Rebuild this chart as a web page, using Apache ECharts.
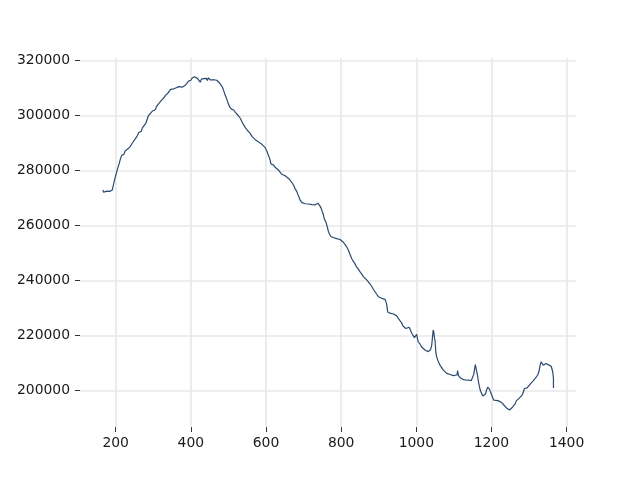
<!DOCTYPE html>
<html>
<head>
<meta charset="utf-8">
<script src="https://cdn.jsdelivr.net/npm/echarts@6/dist/echarts.min.js"></script>
<style>html,body{margin:0;padding:0;background:#fff}#c{width:640px;height:480px}</style>
</head>
<body>
<div id="c"></div>
<script>
const xValues = [166,168,170,173,177,180,184,187,191,195,198,204,209,213,216,219,222,225,228,231,235,238,241,244,248,253,257,262,266,268,271,275,280,283,287,290,292,295,297,301,306,308,311,315,318,321,324,327,330,333,336,339,342,346,349,351,355,359,363,366,369,373,377,382,386,390,394,397,400,404,407,410,413,415,418,421,423,425,428,430,434,439,441,444,446,448,452,457,461,465,469,474,477,480,484,487,491,495,499,503,506,508,511,514,518,523,527,532,536,541,545,548,550,554,558,560,563,567,572,576,580,584,589,592,596,600,603,607,611,613,615,618,620,624,627,629,633,636,638,642,645,647,651,653,656,660,665,669,673,677,682,686,691,695,700,704,709,713,718,722,727,731,735,738,740,743,747,750,753,755,757,760,763,766,768,772,775,779,783,788,793,797,802,806,810,815,819,823,828,832,837,841,846,850,855,859,864,868,873,877,882,886,890,895,899,903,908,913,917,921,924,926,930,935,939,943,947,952,956,961,964,968,972,977,981,985,988,992,995,998,1001,1003,1005,1010,1014,1018,1023,1027,1032,1036,1038,1041,1043,1045,1047,1048,1050,1052,1054,1058,1063,1067,1072,1076,1081,1085,1090,1094,1099,1103,1108,1110,1112,1115,1118,1121,1126,1130,1134,1137,1140,1143,1146,1149,1153,1157,1159,1161,1163,1166,1168,1171,1173,1177,1180,1184,1186,1188,1190,1192,1195,1197,1200,1203,1206,1209,1212,1215,1219,1224,1228,1233,1237,1241,1245,1248,1252,1256,1259,1263,1266,1270,1274,1279,1282,1285,1288,1291,1295,1300,1303,1307,1311,1316,1319,1323,1326,1328,1330,1332,1335,1337,1338,1341,1345,1348,1352,1355,1359,1361,1363,1365,1365];
const yValues = [273000,272200,272800,272300,272600,271900,272500,271900,273000,275500,277200,280200,282500,284500,285600,286300,286000,287200,286900,287800,288200,288700,289300,290000,290400,291800,292600,294000,294600,294300,295600,295900,297200,297700,300000,299700,300800,301000,301600,302000,302300,303200,303000,304500,304300,305500,305700,306300,306800,307500,307800,308200,308700,309600,309400,310100,309800,310400,310300,309800,310600,310100,310400,310500,311200,311800,312600,313300,312900,313800,313300,314200,314400,314800,313500,313200,313700,312200,313300,313000,313500,313100,313600,312800,313800,313400,313000,313500,313100,313000,312900,312400,311800,311200,310400,309300,307600,306300,304600,303300,302600,302400,302000,302100,301300,300900,299900,299000,297800,296600,295700,295400,294800,294200,293600,292900,292400,292000,291200,290800,290500,290000,289600,288900,288700,287800,286900,285400,283900,282500,282600,281900,282100,281300,281500,281100,280300,279800,279600,278700,279000,278400,278200,277700,277800,277200,276600,275700,274800,273600,272400,271000,269300,268500,268100,268000,267500,267900,267300,267700,267200,267600,267500,268200,268100,267300,266300,265000,263900,262500,262700,261200,259600,258000,257200,256200,256200,255700,255800,255300,255400,255000,254800,254000,253200,252300,251200,249800,248100,247100,246100,245000,244100,243300,242400,241500,241200,240300,239600,238800,237800,236800,236000,235000,234200,233700,233600,233300,233200,231500,228600,228500,228200,228400,227900,228100,227300,226900,225600,224700,223600,223500,222600,222100,223100,221800,220900,220400,219300,220000,220500,219000,217800,216900,216000,215500,214800,214300,214200,214600,215000,216500,219500,222100,221000,219500,218000,214000,212400,210800,209300,208500,207500,206800,206300,205700,205900,205400,205500,205200,205700,207300,205600,205100,204600,204700,204000,204300,203800,203300,203900,203900,203600,204000,206000,209500,208200,206800,205500,202800,201500,199800,199300,198100,198600,198800,199800,199600,201300,200600,200500,199700,199100,197600,196600,197000,196500,196800,196300,196000,195600,194800,194200,193600,193300,193000,193600,194000,194600,195200,196300,196900,197300,197200,198500,199600,200800,201200,201000,201600,202400,202900,203600,204100,204900,205700,206800,208100,209600,210500,210800,209800,209300,209800,209900,209400,209400,208900,208900,208200,206900,204500,201000];
const xTicks = [200,400,600,800,1000,1200,1400];
const yTicks = [200000,220000,240000,260000,280000,300000,320000];

const lineColor = '#2b4a6f';
const gridColor = '#e8e8e8';
const textColor = '#1a1a1a';
const font = 'DejaVu Sans';

const chart = echarts.init(document.getElementById('c'), null, {renderer: 'canvas'});
const data = xValues.map((x, i) => [x, yValues[i]]);

const gridLines = xTicks.map(v => ({xAxis: v})).concat(yTicks.map(v => ({yAxis: v})));

chart.setOption({
  animation: false,
  backgroundColor: '#ffffff',
  grid: {left: 80, right: 64, top: 58, bottom: 53, containLabel: false},
  xAxis: {
    type: 'value', min: 105, max: 1425,
    axisLine: {show: false},
    axisTick: {show: true, customValues: xTicks, length: 5, lineStyle: {color: '#333', width: 1}},
    axisLabel: {customValues: xTicks, margin: 9, color: textColor, fontFamily: font, fontSize: 13.9, formatter: v => String(v)},
    splitLine: {show: false}
  },
  yAxis: {
    type: 'value', min: 186800, max: 321000,
    axisLine: {show: false},
    axisTick: {show: true, customValues: yTicks, length: 5, lineStyle: {color: '#333', width: 1}},
    axisLabel: {customValues: yTicks, margin: 10, color: textColor, fontFamily: font, fontSize: 13.9, formatter: v => String(v)},
    splitLine: {show: false}
  },
  series: [
    {
      type: 'line', data: [], z: 1, silent: true,
      markLine: {
        z: 1, zlevel: 0,
        silent: true, symbol: ['none', 'none'], animation: false,
        label: {show: false},
        lineStyle: {type: 'solid', color: gridColor, width: 1.6},
        emphasis: {disabled: true},
        data: gridLines
      }
    },
    {
      type: 'line', data: data, z: 10, showSymbol: false, symbol: 'none',
      lineStyle: {color: lineColor, width: 1.2},
      itemStyle: {color: lineColor}
    }
  ]
});
</script>
</body>
</html>
